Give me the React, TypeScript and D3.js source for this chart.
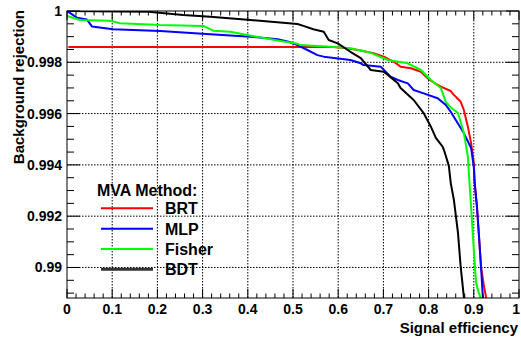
import * as React from 'react'
import * as d3 from 'd3'

type Pt = [number, number]

// signal efficiency vs background rejection
const brtCurve: Pt[] = [
  [0.003, 0.9986], [0.59, 0.9986], [0.62, 0.99855], [0.65, 0.99846], [0.678, 0.99835],
  [0.701, 0.99822], [0.723, 0.99802], [0.738, 0.99783], [0.761, 0.99777], [0.783, 0.99763],
  [0.798, 0.99738], [0.805, 0.99728], [0.827, 0.99705], [0.849, 0.99688], [0.856, 0.99673],
  [0.871, 0.99646], [0.878, 0.99614], [0.882, 0.99585], [0.887, 0.99548], [0.894, 0.99485],
  [0.9, 0.99407], [0.902, 0.99329], [0.907, 0.99236], [0.911, 0.99135], [0.916, 0.99002],
  [0.922, 0.98932], [0.927, 0.98885], [0.929, 0.9887],
]

const mlpCurve: Pt[] = [
  [0, 1.0], [0.022, 0.99974], [0.044, 0.99967], [0.055, 0.9994], [0.102, 0.99929],
  [0.206, 0.99922], [0.317, 0.99909], [0.406, 0.999], [0.466, 0.9989], [0.49, 0.9988],
  [0.51, 0.99867], [0.532, 0.99848], [0.554, 0.99828], [0.568, 0.99822], [0.627, 0.99809],
  [0.65, 0.99796], [0.656, 0.99789], [0.694, 0.99783], [0.716, 0.99744], [0.732, 0.99731],
  [0.754, 0.99718], [0.767, 0.99692], [0.789, 0.99679], [0.82, 0.9966], [0.838, 0.99634],
  [0.849, 0.99607], [0.856, 0.99587], [0.878, 0.99524], [0.894, 0.99466], [0.9, 0.99392],
  [0.902, 0.99329], [0.907, 0.99236], [0.911, 0.99135], [0.916, 0.99002], [0.92, 0.98885],
  [0.921, 0.9887],
]

const fisherCurve: Pt[] = [
  [0, 0.99981], [0.022, 0.99969], [0.029, 0.99965], [0.095, 0.99962], [0.1175, 0.99952],
  [0.206, 0.99945], [0.3016, 0.99942], [0.324, 0.99923], [0.361, 0.99919], [0.39, 0.99909],
  [0.472, 0.99883], [0.51, 0.99872], [0.517, 0.99867], [0.583, 0.99861], [0.627, 0.99855],
  [0.672, 0.99837], [0.71, 0.99809], [0.754, 0.99796], [0.783, 0.9977], [0.805, 0.99731],
  [0.827, 0.997], [0.834, 0.99665], [0.838, 0.99646], [0.849, 0.99624], [0.865, 0.99602],
  [0.878, 0.99524], [0.887, 0.99431], [0.889, 0.99368], [0.894, 0.99236], [0.9, 0.99068],
  [0.905, 0.9894], [0.911, 0.98901], [0.916, 0.98878],
]

const bdtCurve: Pt[] = [
  [0, 1.0], [0.18, 0.99997], [0.257, 0.99984], [0.317, 0.99978], [0.406, 0.99965],
  [0.51, 0.99949], [0.523, 0.99942], [0.545, 0.99929], [0.568, 0.99919], [0.579, 0.99887],
  [0.599, 0.99874], [0.627, 0.99841], [0.65, 0.99816], [0.672, 0.9977], [0.701, 0.99763],
  [0.732, 0.99718], [0.738, 0.997], [0.767, 0.99653], [0.789, 0.99602], [0.805, 0.99549],
  [0.816, 0.99505], [0.831, 0.99471], [0.834, 0.99458], [0.843, 0.99407], [0.845, 0.99393],
  [0.849, 0.99329], [0.856, 0.99263], [0.865, 0.99135], [0.871, 0.99002], [0.878, 0.98885],
  [0.879, 0.9887],
]

const methods = ['BRT', 'MLP', 'Fisher', 'BDT']
const methodCurves = [brtCurve, mlpCurve, fisherCurve, bdtCurve]
const methodColors = ['#ff0000', '#0000ff', '#00ff00', '#000000']

const xTicks = [0, 0.1, 0.2, 0.3, 0.4, 0.5, 0.6, 0.7, 0.8, 0.9, 1]
const xTickLabels = ['0', '0.1', '0.2', '0.3', '0.4', '0.5', '0.6', '0.7', '0.8', '0.9', '1']
const yTicks = [0.99, 0.992, 0.994, 0.996, 0.998, 1]
const yTickLabels = ['0.99', '0.992', '0.994', '0.996', '0.998', '1']

const font = '"Liberation Sans", Arial, Helvetica, sans-serif'

export default function App() {
  const width = 521
  const height = 340
  const left = 67
  const right = 519
  const top = 11
  const bottom = 298

  const x = d3.scaleLinear().domain([0, 1]).range([left, right])
  const y = d3.scaleLinear().domain([0.98881, 1]).range([bottom, top])

  const line = d3.line<Pt>().x(d => x(d[0])).y(d => y(d[1]))

  const xMinor = d3.range(0, 1.0001, 0.02)
  const yMinor = d3.range(0.989, 1.00001, 0.0005)

  const xMajorLen = 9
  const xMinorLen = 4.5
  const yMajorLen = 13
  const yMinorLen = 7

  return (
    <svg width={width} height={height} style={{ position: 'absolute', left: 0, top: 0, background: '#fff' }}>
      <defs>
        <clipPath id="plot">
          <rect x={left} y={top} width={right - left} height={bottom - top} />
        </clipPath>
      </defs>
      <rect x={0} y={0} width={width} height={height} fill="#fff" />

      {/* grid */}
      <g stroke="#000" strokeWidth={1} strokeDasharray="1.5,1.5">
        {xTicks.filter(t => t > 0 && t < 1).map(t => (
          <line key={'gx' + t} x1={x(t)} x2={x(t)} y1={top} y2={bottom} />
        ))}
        {yTicks.filter(t => t < 1).map(t => (
          <line key={'gy' + t} x1={left} x2={right} y1={y(t)} y2={y(t)} />
        ))}
      </g>

      {/* curves */}
      <g clipPath="url(#plot)" fill="none" strokeWidth={2} strokeLinejoin="round">
        {methodCurves.map((c, i) => (
          <path key={methods[i]} d={line(c) || ''} stroke={methodColors[i]} />
        ))}
      </g>

      {/* frame and ticks */}
      <rect x={left} y={top} width={right - left} height={bottom - top} fill="none" stroke="#000" strokeWidth={1} />
      <g stroke="#000" strokeWidth={1}>
        {xMinor.map(t => {
          const major = xTicks.some(m => Math.abs(m - t) < 1e-6)
          const len = major ? xMajorLen : xMinorLen
          return (
            <g key={'tx' + t}>
              <line x1={x(t)} x2={x(t)} y1={bottom} y2={bottom - len} />
              <line x1={x(t)} x2={x(t)} y1={top} y2={top + len} />
            </g>
          )
        })}
        {yMinor.map(t => {
          const major = yTicks.some(m => Math.abs(m - t) < 1e-7)
          const len = major ? yMajorLen : yMinorLen
          return (
            <g key={'ty' + t}>
              <line x1={left} x2={left + len} y1={y(t)} y2={y(t)} />
              <line x1={right} x2={right - len} y1={y(t)} y2={y(t)} />
            </g>
          )
        })}
      </g>

      {/* tick labels */}
      <g fontFamily={font} fontWeight="bold" fontSize={14} fill="#000">
        {xTicks.map((t, i) => (
          <text key={'lx' + t} x={t === 1 ? 520 : x(t)} y={314} textAnchor={t === 1 ? 'end' : 'middle'}>{xTickLabels[i]}</text>
        ))}
        {yTicks.map((t, i) => (
          <text key={'ly' + t} x={62} y={y(t) + 5} textAnchor="end">{yTickLabels[i]}</text>
        ))}
      </g>

      {/* axis titles */}
      <g fontFamily={font} fontWeight="bold" fontSize={15} fill="#000">
        <text x={518} y={333} textAnchor="end">Signal efficiency</text>
        <text transform="translate(24,10) rotate(-90)" textAnchor="end">Background rejection</text>
      </g>

      {/* legend */}
      <g fontFamily={font} fontWeight="bold" fontSize={16} fill="#000">
        <text x={97} y={196}>MVA Method:</text>
        {methods.map((m, i) => {
          const ly = 208.3 + i * 20.35
          return (
            <g key={'leg' + m}>
              <line x1={101} x2={153} y1={ly} y2={ly}
                stroke={m === 'BDT' ? '#333' : methodColors[i]} strokeWidth={m === 'BDT' ? 3 : 2} />
              <text x={165} y={ly + 6}>{m}</text>
            </g>
          )
        })}
      </g>
    </svg>
  )
}
